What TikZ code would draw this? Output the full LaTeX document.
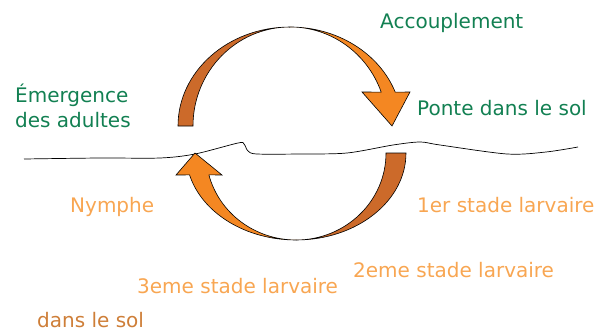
\documentclass[tikz,border=0pt]{standalone}
\usepackage{fontspec}
\setmainfont{DejaVu Sans}
\definecolor{stagegreen}{RGB}{18,128,82}
\definecolor{stageorange}{RGB}{248,166,82}
\definecolor{soilbrown}{RGB}{206,126,56}
\definecolor{backorange}{RGB}{204,106,42}
\definecolor{frontorange}{RGB}{244,135,34}
\tikzset{
  greenlabel/.style = {text=stagegreen, anchor=base west, inner sep=0pt,
                       font=\fontsize{20}{24}\selectfont},
  orangelabel/.style = {text=stageorange, anchor=base west, inner sep=0pt,
                        font=\fontsize{20}{24}\selectfont},
  backface/.style = {draw=black, fill=backorange, line width=0.6pt},
  frontface/.style = {draw=black, fill=frontorange, line width=0.6pt}
}

\begin{document}
\begin{tikzpicture}[x=1pt,y=-1pt]
    \useasboundingbox (0,0) rectangle (608,332);
    % Ground line
    \draw[line width=0.7pt] plot[smooth,tension=0.5] coordinates {(24,159) (100,158) (160,158) (195,154) (238,143) (244,144) (248,151) (257,154) (300,154) (347,153) (393,145) (420,142) (440,145) (507,154) (546,152) (578,147)};
    % Upper arrow: back face on the left
    \draw[backface] (178,126) arc[start angle=180,end angle=270,x radius=112,y radius=99]
        arc[start angle=270,end angle=180,x radius=97,y radius=99] -- cycle;
    % Upper arrow: front face with the head
    \draw[frontface] (290,27) arc[start angle=270,end angle=340,x radius=112,y radius=99]
        -- (410,92) -- (392,126) -- (362,92) -- (381.2,92.1)
        arc[start angle=340,end angle=270,x radius=97,y radius=99] -- cycle;
    % Lower arrow: back face on the right
    \draw[backface] (406,153) arc[start angle=0,end angle=90,x radius=110,y radius=87]
        arc[start angle=90,end angle=0,x radius=90,y radius=87] -- cycle;
    % Lower arrow: front face with the head
    \draw[frontface] (296,240) arc[start angle=90,end angle=165.4,x radius=110,y radius=87]
        -- (176,175) -- (195,153) -- (222,175) -- (208.9,174.9)
        arc[start angle=165.4,end angle=90,x radius=90,y radius=87] -- cycle;
    % Stages above ground
    \node[greenlabel] (accouplement) at (380,28) {Accouplement};
    \node[greenlabel] (ponte) at (417,115) {Ponte dans le sol};
    \node[greenlabel] (emergence) at (15,102) {Émergence};
    \node[greenlabel] (adultes) at (15,127) {des adultes};
    % Stages in the soil
    \node[orangelabel] (nymphe) at (70,212) {Nymphe};
    \node[orangelabel] (larveI) at (417,212) {1er stade larvaire};
    \node[orangelabel] (larveII) at (353,277) {2eme stade larvaire};
    \node[orangelabel] (larveIII) at (137,293) {3eme stade larvaire};
    \node[orangelabel,text=soilbrown] (sol) at (37,327) {dans le sol};
\end{tikzpicture}
\end{document}
